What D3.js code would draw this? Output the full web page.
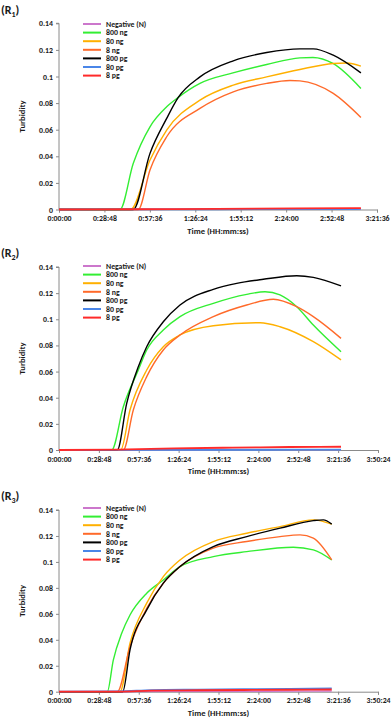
<!DOCTYPE html>
<html>
<head>
<meta charset="utf-8">
<script src="https://cdn.jsdelivr.net/npm/d3@7"></script>
<style>
  body { margin: 0; background: white; }
  svg text { font-family: Carlito, Lato, "Liberation Sans", sans-serif; font-weight: bold; fill: #1a1a1a; }
</style>
</head>
<body>
<svg id="chart" width="392" height="720"></svg>
<script>
// series names + colours (legend order)
var seriesNames = ['Negative (N)', '800 ng', '80 ng', '8 ng', '800 pg', '80 pg', '8 pg'];
var seriesColors = ['#cc77cc', '#33ee33', '#ffb000', '#ff6a2a', '#000000', '#4a86e8', '#ff2a2a'];

// time in seconds, turbidity
// (R1)
var r1Neg   = [[0,0],[3000,0.0001],[6000,0.0002],[9000,0.0002],[11484,0.0003]];
var r1Ng800 = [[0,0],[2320,0],[2826,0.0347],[3461,0.0622],[4096,0.0772],[4537,0.0843],[5362,0.0948],[6617,0.1027],[7899,0.109],[9164,0.114],[9660,0.1143],[10420,0.1098],[11484,0.091]];
var r1Ng80  = [[0,0],[2727,0],[3461,0.0372],[4096,0.0597],[5362,0.0822],[6629,0.0935],[7899,0.0997],[9164,0.1053],[10432,0.1098],[10941,0.1102],[11484,0.1078]];
var r1Ng8   = [[0,0],[3016,0],[3461,0.0297],[4096,0.0547],[5362,0.076],[6629,0.0885],[7899,0.0948],[8785,0.097],[9164,0.0967],[10432,0.0873],[11484,0.0692]];
var r1Pg800 = [[0,0],[2826,0],[3461,0.0422],[4096,0.0685],[4537,0.0843],[5362,0.0997],[6629,0.1118],[7899,0.118],[9164,0.1208],[9671,0.1208],[10432,0.116],[11484,0.1027]];
var r1Pg80  = [[0,0],[3000,0.0001],[6000,0.0002],[9000,0.0003],[11484,0.0004]];
var r1Pg8   = [[0,0],[3000,0.0002],[6000,0.0005],[9000,0.0008],[11484,0.0011]];

// (R2)
var r2Neg   = [[0,0],[3000,0.0001],[6000,0.0002],[9000,0.0003],[12222,0.0003]];
var r2Ng800 = [[0,0],[2284,0],[2787,0.0331],[3437,0.0612],[3801,0.0765],[4520,0.0918],[5244,0.102],[6687,0.1122],[8135,0.1191],[8928,0.1211],[9578,0.1186],[10302,0.1096],[11021,0.0956],[12222,0.0752]];
var r2Ng80  = [[0,0],[2674,0],[3077,0.0306],[3801,0.0612],[4520,0.079],[5244,0.088],[6687,0.0951],[8711,0.0974],[9578,0.0943],[11021,0.0829],[12222,0.0689]];
var r2Ng8   = [[0,0],[2787,0],[3220,0.0306],[3801,0.0561],[4520,0.0765],[5244,0.088],[6687,0.102],[8135,0.1109],[9288,0.1153],[10302,0.1096],[11021,0.102],[12222,0.0854]];
var r2Pg800 = [[0,0],[2527,0],[2934,0.0357],[3437,0.0637],[3801,0.079],[4520,0.0981],[5244,0.1109],[6687,0.1229],[7702,0.1275],[8854,0.1306],[10302,0.1333],[11021,0.1321],[12222,0.1255]];
var r2Pg80  = [[0,0],[3000,0.0001],[6000,0.0002],[9000,0.0002],[12222,0.0003]];
var r2Pg8   = [[0,0],[2500,0.0003],[5000,0.0012],[7500,0.0018],[10000,0.0023],[12222,0.0025]];

// (R3)
var r3Neg   = [[0,0],[3000,0.0002],[6000,0.0003],[9000,0.0004],[11819,0.0005]];
var r3Ng800 = [[0,0],[2093,0],[2353,0.0244],[2717,0.045],[3077,0.0591],[3801,0.0759],[4520,0.0861],[5244,0.0964],[6687,0.1041],[8135,0.1079],[10155,0.1113],[11021,0.1093],[11819,0.1015]];
var r3Ng80  = [[0,0],[2644,0],[3077,0.0373],[3801,0.0682],[4520,0.0887],[5244,0.1015],[6687,0.1157],[8135,0.1221],[9578,0.1272],[11021,0.1324],[11819,0.1291]];
var r3Ng8   = [[0,0],[2527,0],[3077,0.0347],[3801,0.0643],[4520,0.0836],[5244,0.0964],[6687,0.1106],[8135,0.1157],[9578,0.1195],[10445,0.1208],[11021,0.1183],[11819,0.1015]];
var r3Pg800 = [[0,0],[2761,0],[3077,0.0322],[3801,0.063],[4520,0.0836],[5244,0.0964],[6687,0.1118],[8135,0.1195],[9578,0.126],[11021,0.1318],[11454,0.1324],[11819,0.1291]];
var r3Pg80  = [[0,0],[2600,0.0002],[4000,0.0012],[6000,0.0016],[8000,0.0019],[10000,0.0022],[11819,0.0025]];
var r3Pg8   = [[0,0],[2600,0.0001],[4000,0.0008],[6000,0.0011],[8000,0.0013],[10000,0.0015],[11819,0.0017]];

var yTicks = [0, 0.02, 0.04, 0.06, 0.08, 0.1, 0.12, 0.14];
var xTicksR1 = [0, 1728, 3456, 5184, 6912, 8640, 10368, 12096];
var xTicksR23 = [0, 1728, 3456, 5184, 6912, 8640, 10368, 12096, 13824];

var panels = [
  { label: '1', series: [r1Neg, r1Ng800, r1Ng80, r1Ng8, r1Pg800, r1Pg80, r1Pg8], xTicks: xTicksR1,
    x0: 59, x1: 377, yBottom: 209.5, yTop: 23.3, labelY: 14, legendY: 24 },
  { label: '2', series: [r2Neg, r2Ng800, r2Ng80, r2Ng8, r2Pg800, r2Pg80, r2Pg8], xTicks: xTicksR23,
    x0: 59, x1: 378, yBottom: 450, yTop: 267, labelY: 257, legendY: 266 },
  { label: '3', series: [r3Neg, r3Ng800, r3Ng80, r3Ng8, r3Pg800, r3Pg80, r3Pg8], xTicks: xTicksR23,
    x0: 59, x1: 378, yBottom: 691.7, yTop: 510, labelY: 500, legendY: 508 }
];

function fmtTime(s) {
    var h = Math.floor(s / 3600), m = Math.floor((s % 3600) / 60), sec = s % 60;
    return h + ':' + String(m).padStart(2, '0') + ':' + String(sec).padStart(2, '0');
}

var svg = d3.select('#chart');

panels.forEach(function(p) {
    var g = svg.append('g');
    var xScale = d3.scaleLinear().domain([0, p.xTicks[p.xTicks.length - 1]]).range([p.x0, p.x1]);
    var yScale = d3.scaleLinear().domain([0, 0.14]).range([p.yBottom, p.yTop]);

    // panel label (R n)
    var lab = g.append('text').attr('x', 1).attr('y', p.labelY).style('font-size', '12px');
    lab.append('tspan').text('(R');
    lab.append('tspan').attr('dy', 3).style('font-size', '8px').text(p.label);
    lab.append('tspan').attr('dy', -3).text(')');

    // y axis
    var yAxis = g.append('g').attr('transform', 'translate(' + p.x0 + ',0)')
        .call(d3.axisLeft(yScale).tickValues(yTicks).tickSize(3).tickPadding(3)
            .tickFormat(function(d) { return d === 0 ? '0' : String(+d.toFixed(2)); }));
    // x axis
    var xAxis = g.append('g').attr('transform', 'translate(0,' + p.yBottom + ')')
        .call(d3.axisBottom(xScale).tickValues(p.xTicks).tickSize(3).tickPadding(3).tickFormat(fmtTime));
    [yAxis, xAxis].forEach(function(a) {
        a.select('.domain').attr('stroke', '#8a8a8a').attr('stroke-width', 1);
        a.selectAll('.tick line').attr('stroke', '#8a8a8a');
        a.selectAll('.tick text').style('font-size', '7.8px').attr('fill', '#1a1a1a')
            .style('font-family', 'Carlito, Lato, sans-serif').style('font-weight', 'bold');
    });
    yAxis.select('.domain').attr('d', 'M-3,' + p.yTop + 'H0V' + p.yBottom);

    // axis titles
    g.append('text').attr('x', (p.x0 + p.x1) / 2).attr('y', p.yBottom + 24)
        .attr('text-anchor', 'middle').style('font-size', '8.6px').text('Time (HH:mm:ss)');
    g.append('text').attr('transform', 'translate(25,' + ((p.yTop + p.yBottom) / 2) + ') rotate(-90)')
        .attr('text-anchor', 'middle').style('font-size', '8.6px').text('Turbidity');

    // lines
    var line = d3.line()
        .x(function(d) { return xScale(d[0]); })
        .y(function(d) { return yScale(d[1]); })
        .curve(d3.curveMonotoneX);
    p.series.forEach(function(s, i) {
        g.append('path').datum(s)
            .attr('d', line)
            .attr('fill', 'none')
            .attr('stroke', seriesColors[i])
            .attr('stroke-width', i >= 5 ? 1.8 : 1.4);
    });

    // legend
    seriesNames.forEach(function(name, i) {
        var ly = p.legendY + i * 8.6;
        g.append('line').attr('x1', 83).attr('x2', 101).attr('y1', ly).attr('y2', ly)
            .attr('stroke', seriesColors[i]).attr('stroke-width', 2);
        g.append('text').attr('x', 106).attr('y', ly + 2.8).style('font-size', '7.8px').text(name);
    });
});
</script>
</body>
</html>
